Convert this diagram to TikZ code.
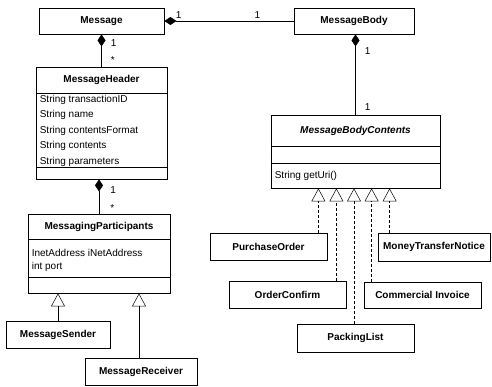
\documentclass[tikz,border=0pt]{standalone}
\usepackage{fontspec}
\setmainfont{Liberation Sans}
\usetikzlibrary{arrows.meta, positioning, calc}

\begin{document}
\begin{tikzpicture}[x=1pt, y=-1pt,
    every node/.style={font=\fontsize{10}{12}\selectfont, inner sep=0pt},
    frame/.style={draw, line width=0.8pt},
    cls/.style={frame, minimum height=27pt, font=\fontsize{10}{12}\selectfont\bfseries},
    title/.style={font=\fontsize{10}{12}\selectfont\bfseries},
    attr/.style={anchor=west},
    mult/.style={inner sep=2pt},
    compose/.style={line width=0.5pt, arrows={Diamond[length=12pt, width=8pt]-}},
    inherit/.style={line width=0.5pt, arrows={-Triangle[open, length=13pt, width=14pt]}},
    realize/.style={inherit, dash pattern=on 3pt off 2pt}]
    \useasboundingbox (0,0) rectangle (492,386);

    % left column
    \node[cls, minimum width=125pt, minimum height=26pt] (msg) at (101.5,21) {Message};
    \node[frame, minimum width=131pt, minimum height=112pt] (hdr) at (101.5,123) {};
    \node[title] (hdrname) at ([yshift=-13.5pt]hdr.north) {MessageHeader};
    \draw[frame] ([yshift=-27pt]hdr.north west) -- ([yshift=-27pt]hdr.north east);
    \draw[frame] ([yshift=-101pt]hdr.north west) -- ([yshift=-101pt]hdr.north east);
    \foreach \t [count=\i] in {String transactionID, String name, String contentsFormat,
        String contents, String parameters}
        \node[attr] (hdra\i) at ([xshift=4pt, yshift={-33pt-15.5pt*(\i-1)}]hdr.north west) {\t};

    \node[frame, minimum width=142pt, minimum height=79pt] (part) at (99,253.5) {};
    \node[title] (partname) at ([yshift=-13pt]part.north) {MessagingParticipants};
    \draw[frame] ([yshift=-26pt]part.north west) -- ([yshift=-26pt]part.north east);
    \draw[frame] ([yshift=-64pt]part.north west) -- ([yshift=-64pt]part.north east);
    \node[attr] (parta1) at ([xshift=4pt, yshift=-39pt]part.north west) {InetAddress iNetAddress};
    \node[attr] (parta2) at ([xshift=4pt, yshift=-53pt]part.north west) {int port};

    \node[cls, minimum width=104pt] (sender) at (58,334.5) {MessageSender};
    \node[cls, minimum width=112pt] (receiver) at (141,371.5) {MessageReceiver};

    % right column
    \node[cls, minimum width=120pt, minimum height=26pt] (body) at (354,21) {MessageBody};
    \node[frame, minimum width=169pt, minimum height=73pt] (contents) at (355.5,151.5) {};
    \node[title] (contentsname) at ([yshift=-16pt]contents.north) {\itshape MessageBodyContents};
    \draw[frame] ([yshift=-32pt]contents.north west) -- ([yshift=-32pt]contents.north east);
    \draw[frame] ([yshift=-49pt]contents.north west) -- ([yshift=-49pt]contents.north east);
    \node[attr] (contentsm1) at ([xshift=4pt, yshift=-61pt]contents.north west) {String getUri()};

    \node[cls, minimum width=117pt] (po) at (268.5,246.5) {PurchaseOrder};
    \node[cls, minimum width=117pt] (oc) at (287.5,294.5) {OrderConfirm};
    \node[cls, minimum width=117pt, minimum height=28pt] (pl) at (355.5,338) {PackingList};
    \node[cls, minimum width=117pt, minimum height=26pt] (ci) at (422.5,295) {Commercial Invoice};
    \node[cls, minimum width=112pt, minimum height=28pt] (mt) at (434,247) {MoneyTransferNotice};

    % composition
    \draw[compose] (msg.east) -- (body.west)
        node[mult, pos=0.11, above] {1} node[mult, pos=0.72, above] {1};
    \draw[compose] (msg.south) -- (hdr.north)
        node[mult, pos=0.27, right=7pt] {1} node[mult, pos=0.79, right=7pt] {*};
    \draw[compose] (part.north |- hdr.south) -- (part.north)
        node[mult, pos=0.31, right=9pt] {1} node[mult, pos=0.83, right=9pt] {*};
    \draw[compose] (contents.north |- body.south) -- (contents.north)
        node[mult, pos=0.21, right=7pt] {1} node[mult, pos=0.91, right=7pt] {1};

    % inheritance
    \draw[inherit] (sender.north) -- (sender.north |- part.south);
    \draw[inherit] ([xshift=-2pt]receiver.north) -- ([xshift=-2pt]receiver.north |- part.south);

    % realization
    \coordinate (po-up) at ([xshift=-9pt]po.north east);
    \coordinate (oc-up) at ([xshift=-10pt]oc.north east);
    \coordinate (pl-up) at ([xshift=-1.5pt]pl.north);
    \coordinate (ci-up) at ([xshift=8pt]ci.north west);
    \coordinate (mt-up) at ([xshift=12pt]mt.north west);
    \foreach \c in {po-up, oc-up, pl-up, ci-up, mt-up}
        \draw[realize] (\c) -- (\c |- contents.south);
\end{tikzpicture}
\end{document}
